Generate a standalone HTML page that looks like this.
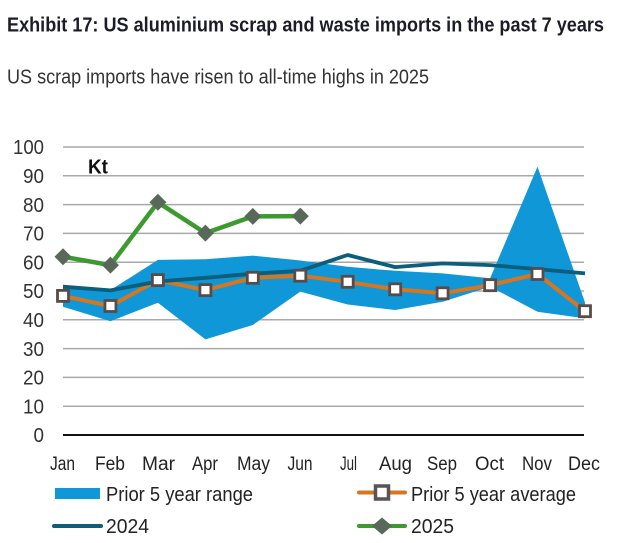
<!DOCTYPE html>
<html>
<head>
<meta charset="utf-8">
<style>
html,body{margin:0;padding:0;background:#fff;}
svg{display:block;}
text{font-family:"Liberation Sans",sans-serif;}
</style>
</head>
<body>
<svg width="640" height="543" viewBox="0 0 640 543" xmlns="http://www.w3.org/2000/svg">
<rect width="640" height="543" fill="#fff"/>
<!-- Title -->
<text x="7" y="31.5" font-size="20" font-weight="bold" fill="#1c1c28" textLength="597" lengthAdjust="spacingAndGlyphs">Exhibit 17: US aluminium scrap and waste imports in the past 7 years</text>
<text x="7" y="83.5" font-size="20" fill="#333" textLength="422" lengthAdjust="spacingAndGlyphs">US scrap imports have risen to all-time highs in 2025</text>

<!-- Gridlines -->
<g stroke="#a8a8a8" stroke-width="1.5">
<line x1="63" y1="147" x2="584" y2="147"/>
<line x1="63" y1="175.8" x2="584" y2="175.8"/>
<line x1="63" y1="204.6" x2="584" y2="204.6"/>
<line x1="63" y1="233.4" x2="584" y2="233.4"/>
<line x1="63" y1="262.2" x2="584" y2="262.2"/>
<line x1="63" y1="291" x2="584" y2="291"/>
<line x1="63" y1="319.8" x2="584" y2="319.8"/>
<line x1="63" y1="348.6" x2="584" y2="348.6"/>
<line x1="63" y1="377.4" x2="584" y2="377.4"/>
<line x1="63" y1="406.2" x2="584" y2="406.2"/>
</g>
<line x1="63" y1="435" x2="584" y2="435" stroke="#111" stroke-width="2"/>

<!-- Y labels -->
<g font-size="20" fill="#333" text-anchor="end">
<text x="44" y="154" textLength="31" lengthAdjust="spacingAndGlyphs">100</text>
<text x="44" y="183" textLength="21" lengthAdjust="spacingAndGlyphs">90</text>
<text x="44" y="211.8" textLength="21" lengthAdjust="spacingAndGlyphs">80</text>
<text x="44" y="240.6" textLength="21" lengthAdjust="spacingAndGlyphs">70</text>
<text x="44" y="269.4" textLength="21" lengthAdjust="spacingAndGlyphs">60</text>
<text x="44" y="298.2" textLength="21" lengthAdjust="spacingAndGlyphs">50</text>
<text x="44" y="327" textLength="21" lengthAdjust="spacingAndGlyphs">40</text>
<text x="44" y="355.8" textLength="21" lengthAdjust="spacingAndGlyphs">30</text>
<text x="44" y="384.6" textLength="21" lengthAdjust="spacingAndGlyphs">20</text>
<text x="44" y="413.4" textLength="21" lengthAdjust="spacingAndGlyphs">10</text>
<text x="44" y="442.2" textLength="10.5" lengthAdjust="spacingAndGlyphs">0</text>
</g>
<text x="88" y="173.5" font-size="20" font-weight="bold" fill="#111" textLength="20" lengthAdjust="spacingAndGlyphs">Kt</text>

<!-- Range area -->
<polygon fill="#1097d7" points="63,284.95 110.45,290.1 157.9,259.9 205.4,259.3 252.8,255.6 300.3,260.5 347.7,266.8 395.2,270.8 442.6,273.4 490.1,278.3 537.5,166.6 585,302.5 585,318.4 537.5,311.7 490.1,286.7 442.6,301.7 395.2,310 347.7,304.5 300.3,291.6 252.8,325 205.4,339.4 157.9,302.8 110.45,321.2 63,306.8"/>

<!-- Prior 5 year average line -->
<polyline fill="none" stroke="#d8761f" stroke-width="4" stroke-linejoin="round" points="63,295.9 110.45,306 157.9,280.1 205.4,290.1 252.8,277.8 300.3,275.7 347.7,281.8 395.2,289.3 442.6,293.3 490.1,285.2 537.5,274 585,311.2"/>

<!-- 2024 -->
<polyline fill="none" stroke="#0c5e7b" stroke-width="3.8" stroke-linejoin="round" points="63,286.7 110.45,290.4 157.9,281.5 205.4,277.8 252.8,273.7 300.3,270.8 347.7,255 395.2,267.1 442.6,263.4 490.1,265.1 537.5,269.1 585,273.4"/>

<!-- avg markers -->
<g fill="#fff" stroke="#5a4b4b" stroke-width="2.8">
<rect x="57.5" y="290.4" width="11" height="11"/>
<rect x="104.95" y="300.5" width="11" height="11"/>
<rect x="152.4" y="274.6" width="11" height="11"/>
<rect x="199.9" y="284.6" width="11" height="11"/>
<rect x="247.3" y="272.3" width="11" height="11"/>
<rect x="294.8" y="270.2" width="11" height="11"/>
<rect x="342.2" y="276.3" width="11" height="11"/>
<rect x="389.7" y="283.8" width="11" height="11"/>
<rect x="437.1" y="287.8" width="11" height="11"/>
<rect x="484.6" y="279.7" width="11" height="11"/>
<rect x="532" y="268.5" width="11" height="11"/>
<rect x="579.5" y="305.7" width="11" height="11"/>
</g>

<!-- 2025 -->
<polyline fill="none" stroke="#3d9a2f" stroke-width="4.5" stroke-linejoin="round" points="63,256.7 110.45,265.1 157.9,202.3 205.4,233.1 252.8,216.4 300.3,216.1"/>
<g fill="#58695a">
<polygon points="63,248.2 71.5,256.7 63,265.2 54.5,256.7"/>
<polygon points="110.45,256.6 118.95,265.1 110.45,273.6 101.95,265.1"/>
<polygon points="157.9,193.8 166.4,202.3 157.9,210.8 149.4,202.3"/>
<polygon points="205.4,224.6 213.9,233.1 205.4,241.6 196.9,233.1"/>
<polygon points="252.8,207.9 261.3,216.4 252.8,224.9 244.3,216.4"/>
<polygon points="300.3,207.6 308.8,216.1 300.3,224.6 291.8,216.1"/>
</g>

<!-- Month labels -->
<g font-size="19" fill="#222" text-anchor="middle">
<text x="62.5" y="470" textLength="25" lengthAdjust="spacingAndGlyphs">Jan</text>
<text x="110" y="470" textLength="30" lengthAdjust="spacingAndGlyphs">Feb</text>
<text x="158.5" y="470" textLength="33" lengthAdjust="spacingAndGlyphs">Mar</text>
<text x="205" y="470" textLength="26" lengthAdjust="spacingAndGlyphs">Apr</text>
<text x="253.5" y="470" textLength="33" lengthAdjust="spacingAndGlyphs">May</text>
<text x="300" y="470" textLength="25" lengthAdjust="spacingAndGlyphs">Jun</text>
<text x="348.5" y="470" textLength="17" lengthAdjust="spacingAndGlyphs">Jul</text>
<text x="395.5" y="470" textLength="33" lengthAdjust="spacingAndGlyphs">Aug</text>
<text x="442" y="470" textLength="30" lengthAdjust="spacingAndGlyphs">Sep</text>
<text x="489.5" y="470" textLength="29" lengthAdjust="spacingAndGlyphs">Oct</text>
<text x="537" y="470" textLength="30" lengthAdjust="spacingAndGlyphs">Nov</text>
<text x="584" y="470" textLength="32" lengthAdjust="spacingAndGlyphs">Dec</text>
</g>

<!-- Legend -->
<rect x="55" y="488" width="45" height="11" fill="#1097d7"/>
<text x="106" y="501" font-size="20" fill="#222" textLength="147" lengthAdjust="spacingAndGlyphs">Prior 5 year range</text>

<line x1="359" y1="492.5" x2="405" y2="492.5" stroke="#d8761f" stroke-width="4" stroke-linecap="round"/>
<rect x="375.5" y="486" width="13" height="13" fill="#fff" stroke="#5a5454" stroke-width="3.5"/>
<text x="411" y="501" font-size="20" fill="#222" textLength="165" lengthAdjust="spacingAndGlyphs">Prior 5 year average</text>

<line x1="54" y1="526" x2="101" y2="526" stroke="#0c5e7b" stroke-width="4" stroke-linecap="round"/>
<text x="106" y="533" font-size="20" fill="#222" textLength="43" lengthAdjust="spacingAndGlyphs">2024</text>

<line x1="359" y1="526" x2="405" y2="526" stroke="#3d9a2f" stroke-width="4" stroke-linecap="round"/>
<polygon points="382,517.5 392,526 382,534.5 372,526" fill="#58695a"/>
<text x="411" y="533" font-size="20" fill="#222" textLength="43" lengthAdjust="spacingAndGlyphs">2025</text>
</svg>
</body>
</html>
